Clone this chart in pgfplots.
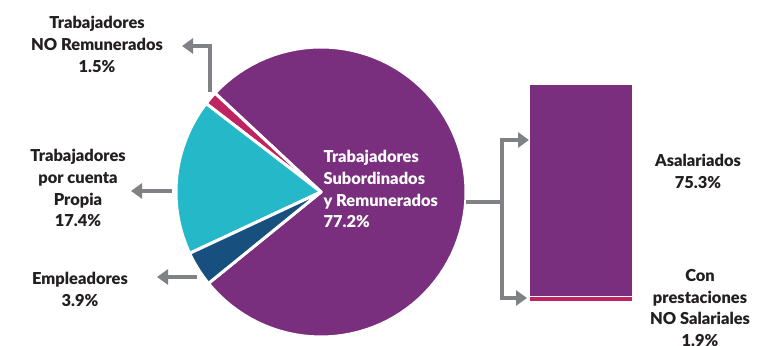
\documentclass[border=0pt]{standalone}
\usepackage{fontspec}
\setmainfont{Lato}[BoldFont={Lato Black}]
\usepackage{pgfplots}
\pgfplotsset{compat=1.18}
\usetikzlibrary{arrows.meta}

\definecolor{cPurple}{HTML}{7A2E7E}
\definecolor{cMagenta}{HTML}{BE2362}
\definecolor{cCyan}{HTML}{25B8C9}
\definecolor{cNavy}{HTML}{17507F}
\definecolor{cGray}{HTML}{808184}
\definecolor{cText}{HTML}{231F20}

% shares of the pie (%), and of the bar
\def\vNoRem{1.5}
\def\vPropia{17.4}
\def\vEmpl{3.9}
\def\vSub{77.2}
\def\vAsal{75.3}
\def\vConPrest{1.9}

\tikzset{
  arr/.style={draw=cGray, line width=4bp, -{Triangle[length=11bp, width=15bp]}},
  lbl/.style={font=\bfseries\fontsize{16.5}{22}\selectfont, text=cText, align=center},
  wedge/.style={draw=white, line width=3bp, line join=round, samples=90, variable=\t},
}

\begin{document}
\begin{tikzpicture}
\pgfmathsetmacro{\aA}{137}
\pgfmathsetmacro{\aB}{\aA+3.6*\vNoRem}
\pgfmathsetmacro{\aC}{\aB+3.6*\vPropia}
\pgfmathsetmacro{\aD}{\aC+3.6*\vEmpl}
\pgfmathsetmacro{\aE}{\aD+3.6*\vSub}
\begin{axis}[
  at={(0,0)}, anchor=south west,
  width=763bp, height=346bp, scale only axis,
  xmin=0, xmax=763, ymin=0, ymax=346,
  hide axis, clip=false,
]
% pie wedges, centre (321,154), radius 145
\addplot[wedge, fill=cPurple, domain=\aD:\aE]
  ({321+145*cos(\t)},{154+145*sin(\t)}) -- (axis cs:321,154) -- cycle;
\addplot[wedge, fill=cMagenta, domain=\aA:\aB]
  ({321+145*cos(\t)},{154+145*sin(\t)}) -- (axis cs:321,154) -- cycle;
\addplot[wedge, fill=cCyan, domain=\aB:\aC]
  ({321+145*cos(\t)},{154+145*sin(\t)}) -- (axis cs:321,154) -- cycle;
\addplot[wedge, fill=cNavy, domain=\aC:\aD]
  ({321+145*cos(\t)},{154+145*sin(\t)}) -- (axis cs:321,154) -- cycle;

% connectors
\draw[arr] (axis cs:210,254) |- (axis cs:182,300);
\draw[arr] (axis cs:172,155) -- (axis cs:131,155);
\draw[arr] (axis cs:197,69) -- (axis cs:157,69);
\draw[cGray, line width=4bp] (axis cs:466,144) -- (axis cs:502,144);
\draw[arr] (axis cs:502,144) |- (axis cs:529,206);
\draw[arr] (axis cs:502,144) |- (axis cs:527,48);

% labels
\node[lbl] at (axis cs:97,302) {Trabajadores\\NO Remunerados\\\vNoRem\%};
\node[lbl] at (axis cs:78,158) {Trabajadores\\por cuenta\\Propia\\\vPropia\%};
\node[lbl] at (axis cs:80,57) {Empleadores\\\vEmpl\%};
\node[lbl, text=white, align=left, anchor=west] at (axis cs:320,157)
  {Trabajadores\\Subordinados\\y Remunerados\\\vSub\%};
\node[lbl] at (axis cs:698,175) {Asalariados\\\vAsal\%};
\node[lbl] at (axis cs:700,38) {Con\\prestaciones\\NO Salariales\\\vConPrest\%};
\end{axis}

% breakdown bar
\begin{axis}[
  at={(529bp,44bp)}, anchor=south west,
  width=104bp, height=218bp, scale only axis,
  xmin=-0.5, xmax=0.5, ymin=0, ymax=77.2,
  hide axis, ybar stacked, bar width=104bp,
]
\addplot[fill=cMagenta, draw=white, line width=1.5bp] coordinates {(0,\vConPrest)};
\addplot[fill=cPurple, draw=white, line width=1.5bp] coordinates {(0,\vAsal)};
\end{axis}

\pgfresetboundingbox
\path (0,0) rectangle (763bp,346bp);
\end{tikzpicture}
\end{document}
